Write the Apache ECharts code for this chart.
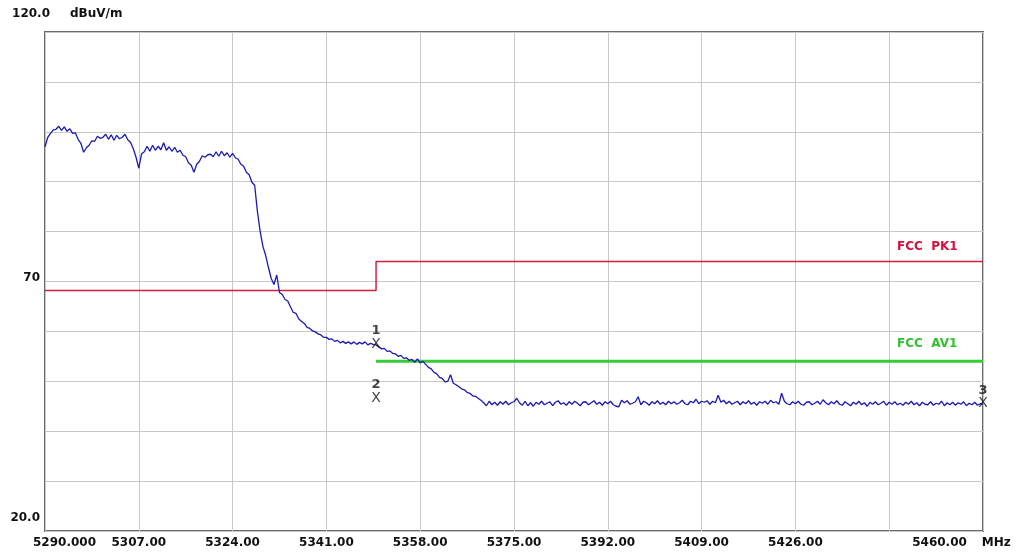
<!DOCTYPE html>
<html>
<head>
<meta charset="utf-8">
<script src="https://cdn.jsdelivr.net/npm/echarts@6/dist/echarts.min.js"></script>
<style>
html,body{margin:0;padding:0;background:#fff;}
#chart{width:1019px;height:553px;}
</style>
</head>
<body>
<div id="chart"></div>
<script>
// Frequency axis (MHz) and level axis (dBuV/m)
const X_MIN = 5290, X_MAX = 5460, X_STEP = 17;
const Y_MIN = 20, Y_MAX = 120, Y_STEP = 10;
const xTickLabels = ['5290.000','5307.00','5324.00','5341.00','5358.00','5375.00','5392.00','5409.00','5426.00','','5460.00'];
const yTickLabels = {120:'120.0', 70:'70', 20:'20.0'};
const yUnit = 'dBuV/m';
const xUnit = 'MHz';

// Measured trace, 0.5 MHz sweep step, in three segments
const SWEEP_STEP = 0.5;
const traceA_start = 5290.0;
const traceA = [
 97.0, 98.9, 99.7,100.4,100.5,101.1,100.3,101.0,100.1,100.6,
 99.7, 99.8, 98.5, 97.7, 95.9, 96.8, 97.3, 98.2, 98.1, 99.1,
 98.7, 98.9, 99.5, 98.5, 99.4, 98.3, 99.3, 98.6, 98.9, 99.5,
 98.4, 97.9, 96.6, 94.9, 92.7, 95.6, 96.0, 97.1, 96.1, 97.3,
 96.3, 97.1, 96.4, 97.8, 96.3, 97.0, 96.1, 96.9, 95.9, 96.3,
 95.3, 95.0, 93.8, 93.3, 91.9, 93.5, 94.1, 95.2, 94.9, 95.4,
 95.5, 95.0, 96.0, 95.1, 96.1, 95.2, 95.8, 94.9, 95.7, 94.8,
 94.5, 93.5, 93.1, 91.9, 91.4, 89.9
];
const traceB_start = 5328.0;
const traceB = [
 89.3, 84.0, 80.0, 77.0, 75.2, 72.8, 70.6, 69.4, 71.3, 67.8,
 67.4, 66.4, 66.1, 64.9, 63.8, 63.6, 62.5, 62.0, 61.6, 60.8,
 60.6, 60.1, 59.9, 59.5, 59.3, 58.8, 58.8, 58.4, 58.5, 58.0,
 58.2, 57.7, 58.0, 57.6, 57.9, 57.5, 57.9, 57.4, 57.8, 57.5,
 57.9, 57.3, 57.6, 57.4, 57.3, 56.9, 56.5, 56.6, 56.0, 56.1,
 55.6, 55.5, 55.0, 55.2, 54.6, 54.7, 54.2, 54.4, 53.8, 54.5,
 53.7, 54.0, 53.4, 52.8, 52.5, 51.8, 51.5, 50.8, 50.6, 49.9,
 50.0, 51.3, 49.6, 49.3, 48.9, 48.5, 48.3, 47.8, 47.6, 47.1,
 47.0, 46.6, 46.2, 45.7
];
const traceC_start = 5370.0;
const traceC = [
 45.1, 46.0, 45.3, 45.8, 45.2, 45.9, 45.4, 46.0, 45.3, 45.7,
 45.9, 46.6, 45.7, 45.2, 46.0, 45.1, 45.7, 45.0, 45.8, 45.4,
 46.0, 45.3, 45.6, 45.9, 45.1, 45.8, 46.1, 45.4, 45.7, 45.2,
 45.9, 45.4, 46.0, 45.6, 45.1, 45.8, 45.9, 45.3, 45.7, 46.1,
 45.4, 45.8, 45.2, 45.9, 45.5, 46.0, 45.3, 45.0, 44.9, 46.2,
 45.7, 46.1, 45.4, 45.6, 45.9, 46.9, 45.3, 46.0, 45.7, 45.2,
 45.9, 45.5, 46.1, 45.4, 45.8, 45.3, 46.0, 45.5, 45.9, 45.4,
 45.7, 46.2, 45.5, 45.3, 46.0, 45.7, 46.4, 45.5, 46.0, 45.8,
 46.1, 45.4, 46.0, 45.7, 47.2, 45.8, 46.2, 45.5, 46.0, 45.4,
 45.7, 46.0, 45.3, 45.9, 45.5, 46.1, 45.4, 45.8, 45.2, 45.9,
 45.6, 46.0, 45.4, 46.2, 45.7, 45.9, 45.4, 47.6, 46.0, 45.5,
 45.3, 45.9, 45.5, 46.0, 45.4, 45.2, 45.8, 45.9, 45.3, 45.6,
 46.0, 45.4, 46.3, 45.7, 45.3, 45.9, 45.5, 46.1, 45.4, 45.2,
 45.9, 45.5, 45.1, 45.8, 45.4, 46.0, 45.3, 45.7, 45.0, 45.8,
 45.4, 45.9, 45.3, 45.6, 46.0, 45.2, 45.8, 45.4, 45.9, 45.3,
 45.6, 45.2, 45.8, 45.4, 46.0, 45.3, 45.7, 45.1, 45.8, 45.4,
 45.3, 45.9, 45.2, 45.6, 45.4, 46.0, 45.1, 45.7, 45.3, 45.8,
 45.2, 45.7, 45.4, 45.9, 45.1, 45.6, 45.3, 45.8, 45.2, 45.5,
 45.4
];

// Limit lines
const pkLimitName = 'FCC  PK1';
const pkLimitFreq  = [5290, 5350, 5350, 5460];
const pkLimitLevel = [68.2, 68.2, 74.0, 74.0];
const avLimitName = 'FCC  AV1';
const avLimitFreq  = [5350, 5460];
const avLimitLevel = [54.0, 54.0];

// Markers
const markerNames = ['1', '2', '3'];
const markerFreq  = [5350, 5350, 5460];
const markerLevel = [57.3, 46.5, 45.4];

function seg(start, arr) { return arr.map((v, i) => [start + i * SWEEP_STEP, v]); }
const traceData = seg(traceA_start, traceA).concat(seg(traceB_start, traceB), seg(traceC_start, traceC));
const pkData = pkLimitFreq.map((f, i) => [f, pkLimitLevel[i]]);
const avData = avLimitFreq.map((f, i) => [f, avLimitLevel[i]]);
const markerData = markerFreq.map((f, i) => [f, markerLevel[i], markerNames[i]]);

const FONT = 'DejaVu Sans';
const chart = echarts.init(document.getElementById('chart'), null, {renderer: 'canvas'});
chart.setOption({
  animation: false,
  backgroundColor: '#ffffff',
  grid: {left: 45, right: 36, top: 32, bottom: 22, show: true, borderColor: '#6a6a6a', borderWidth: 2, backgroundColor: 'transparent'},
  xAxis: {
    type: 'value', min: X_MIN, max: X_MAX, interval: X_STEP,
    axisLine: {show: false}, axisTick: {show: false},
    splitLine: {show: true, lineStyle: {color: '#c8c8c8', width: 1}},
    axisLabel: {
      margin: 6, color: '#111', fontFamily: FONT, fontSize: 12, fontWeight: 'bold',
      formatter: function (v) {
        const idx = Math.round((v - X_MIN) / X_STEP);
        const t = xTickLabels[idx] || '';
        if (idx === 0) return '{f|' + t + '}';
        if (idx === xTickLabels.length - 1) return '{l|' + t + '}{u|' + xUnit + '}';
        return t;
      },
      rich: {
        f: {padding: [0, 0, 0, 39], color: '#111', fontFamily: FONT, fontSize: 12, fontWeight: 'bold'},
        l: {color: '#111', fontFamily: FONT, fontSize: 12, fontWeight: 'bold'},
        u: {padding: [0, 43, 0, 15], color: '#111', fontFamily: FONT, fontSize: 12, fontWeight: 'bold'}
      }
    }
  },
  yAxis: {
    type: 'value', min: Y_MIN, max: Y_MAX, interval: Y_STEP,
    name: yUnit, nameLocation: 'end', nameGap: 18,
    nameTextStyle: {align: 'left', verticalAlign: 'middle', padding: [0, 0, 0, 25], color: '#111', fontFamily: FONT, fontSize: 12, fontWeight: 'bold'},
    axisLine: {show: false}, axisTick: {show: false},
    splitLine: {show: true, lineStyle: {color: '#c8c8c8', width: 1}},
    axisLabel: {
      margin: -5, color: '#111', fontFamily: FONT, fontSize: 12, fontWeight: 'bold',
      formatter: function (v) {
        const t = yTickLabels[Math.round(v)];
        if (!t) return '';
        if (Math.round(v) === Y_MAX) return '{t|' + t + '}';
        if (Math.round(v) === Y_MIN) return '{b|' + t + '}';
        return '{m|' + t + '}';
      },
      rich: {
        t: {padding: [0, 0, 36, 0], color: '#111', fontFamily: FONT, fontSize: 12, fontWeight: 'bold'},
        m: {padding: [0, 10, 8, 0], color: '#111', fontFamily: FONT, fontSize: 12, fontWeight: 'bold'},
        b: {padding: [0, 10, 26, 0], color: '#111', fontFamily: FONT, fontSize: 12, fontWeight: 'bold'}
      }
    }
  },
  series: [
    {
      name: pkLimitName, type: 'line', data: pkData, showSymbol: false, z: 3,
      lineStyle: {color: '#d2203c', width: 1.5},
      endLabel: {show: true, formatter: pkLimitName, color: '#d2103c', fontFamily: FONT, fontSize: 12, fontWeight: 'bold', distance: 0, offset: [-86, -15]}
    },
    {
      name: avLimitName, type: 'line', data: avData, showSymbol: false, z: 3,
      lineStyle: {color: '#36cc36', width: 3},
      endLabel: {show: true, formatter: avLimitName, color: '#30c030', fontFamily: FONT, fontSize: 12, fontWeight: 'bold', distance: 0, offset: [-86, -17]}
    },
    {
      name: 'Trace', type: 'line', data: traceData, showSymbol: false, z: 4,
      lineStyle: {color: '#1a1ab4', width: 1.3}
    },
    {
      name: 'Markers', type: 'scatter', data: markerData, symbolSize: 0, z: 6,
      label: {
        show: true, position: 'inside', offset: [0, -7],
        formatter: function (p) { return '{n|' + p.value[2] + '}\n{x|X}'; },
        rich: {
          n: {color: '#111', fontFamily: FONT, fontSize: 13, fontWeight: 'bold', lineHeight: 13, align: 'center'},
          x: {color: '#111', fontFamily: FONT, fontSize: 14, lineHeight: 14, align: 'center'}
        }
      }
    }
  ]
});
</script>
</body>
</html>
